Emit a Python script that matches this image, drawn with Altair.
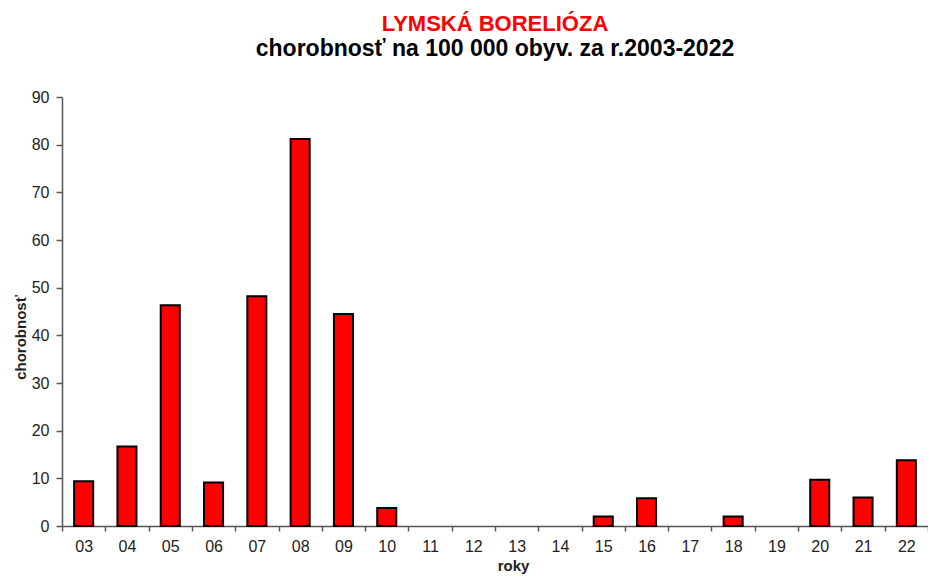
import altair as alt
import pandas as pd

years = ["03", "04", "05", "06", "07", "08", "09", "10", "11", "12",
         "13", "14", "15", "16", "17", "18", "19", "20", "21", "22"]
values = [9.4, 16.7, 46.3, 9.1, 48.2, 81.2, 44.5, 3.8, 0, 0,
          0, 0, 2.0, 5.8, 0, 2.0, 0, 9.7, 6.0, 13.8]

df = pd.DataFrame({"rok": years, "chorobnost": values})

FONT = "Liberation Sans"

chart = alt.Chart(df).transform_filter(
    "datum.chorobnost > 0"
).mark_bar(
    color="#ff0000", stroke="#000000", strokeWidth=2,
    width=alt.RelativeBandSize(0.44)
).encode(
    x=alt.X("rok:N", sort=years,
            scale=alt.Scale(domain=years, paddingInner=0, paddingOuter=0),
            axis=alt.Axis(title="roky", labelAngle=0, tickBand="extent",
                          tickSize=5, labelPadding=7, labelFontSize=16,
                          labelColor="#222222", titleFontSize=15,
                          titleFontWeight="bold", titleColor="#222222",
                          titlePadding=4, titleX=451,
                          domainColor="#555555", tickColor="#555555",
                          domainWidth=1.5, tickWidth=1.5,
                          labelFont=FONT, titleFont=FONT)),
    y=alt.Y("chorobnost:Q",
            scale=alt.Scale(domain=[0, 90], nice=False),
            axis=alt.Axis(title="chorobnosť", values=list(range(0, 91, 10)),
                          grid=False, tickSize=6, labelPadding=7,
                          labelFontSize=16, labelColor="#222222",
                          titleFontSize=15, titleFontWeight="bold",
                          titleColor="#222222", titlePadding=3,
                          titleY=240,
                          domainColor="#555555", tickColor="#555555",
                          domainWidth=1.5, tickWidth=1.5,
                          labelFont=FONT, titleFont=FONT)),
).properties(
    width=866,
    height=429,
    autosize=alt.AutoSizeParams(type="none"),
    padding={"left": 54, "top": 89, "right": 0, "bottom": 48},
    title=alt.TitleParams(
        text="LYMSKÁ BORELIÓZA",
        subtitle="chorobnosť na 100 000 obyv. za r.2003-2022",
        font=FONT, fontSize=22, fontWeight="bold", color="#ff0000",
        subtitleFont=FONT, subtitleFontSize=23, subtitleFontWeight="bold",
        subtitleColor="#000000", subtitlePadding=2,
        anchor="middle", offset=27,
    ),
).configure_view(stroke=None)

chart.save("out.html", embed_options={"renderer": "svg", "actions": False})
